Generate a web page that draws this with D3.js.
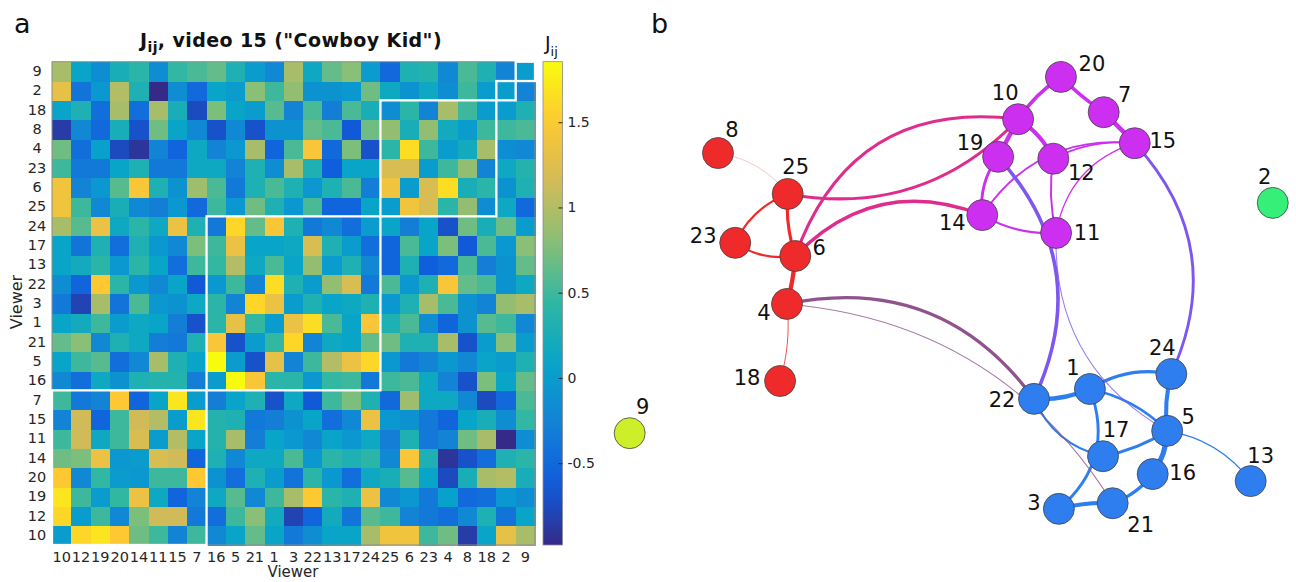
<!DOCTYPE html>
<html>
<head>
<meta charset="utf-8">
<script src="https://cdn.jsdelivr.net/npm/d3@7"></script>
<style>
  body { margin: 0; background: #fff; }
  text { font-family: "DejaVu Sans", sans-serif; }
</style>
</head>
<body>
<svg width="1296" height="582"></svg>
<script>
const svg = d3.select("svg");
const width = +svg.attr("width");
const height = +svg.attr("height");

// viewer order of the matrix columns (first = left column / bottom row)
const order = [10,12,19,20,14,11,15,7,16,5,21,1,3,22,13,17,24,25,6,23,4,8,18,2,9];

// J_ij, lower triangle in "order" index (row i holds j = 0..i-1), diagonal = 0
const jLower = [
  [],
  [1.6],
  [1.7, 0.5],
  [1.5, -0.2, 0.45],
  [0.7, 0.75, 1.35, -0.05],
  [0.5, 1.15, 0.15, 0.5, 1.2],
  [-0.25, 1.15, -0.55, 0.5, 1.15, 1.0],
  [0.5, -0.35, -0.25, 1.5, -0.55, 0.1, 1.7],
  [-0.2, -0.45, 0.15, -0.1, 0.3, 0.35, 0.35, -0.3],
  [0.1, 0.5, 0.6, -0.45, -0.2, 0.95, 0.3, 0.1, 1.855],
  [0.65, 0.8, -0.2, 0.3, 0.15, -0.3, -0.35, 0.3, 1.45, -0.7],
  [0.1, 0.2, 0.5, 0.0, 0.15, 0.1, -0.3, -0.7, 0.4, 1.3, 0.45],
  [-0.35, -0.8, 0.95, -0.4, 0.55, -0.05, -0.1, 0.15, 0.4, -0.25, 1.6, 1.35],
  [-0.15, -0.55, 1.5, 0.4, -0.05, -0.2, 0.1, -0.65, -0.05, 0.5, -0.25, 1.65, 0.3],
  [0.1, 0.2, 0.4, -0.05, 0.4, 0.1, -0.45, 0.5, 0.45, 1.0, 0.15, 0.55, 0.1, 0.85],
  [0.1, -0.4, 0.3, -0.45, 0.3, -0.05, -0.2, 0.75, 0.5, 1.35, 0.1, 0.1, 0.15, 1.2, 0.3],
  [0.95, 0.6, 1.35, 0.15, 0.4, 0.15, 1.35, 0.3, -0.35, 1.6, 0.65, 1.45, 0.3, -0.35, -0.2, -0.45],
  [1.4, 0.5, -0.2, 0.25, -0.2, -0.3, -0.05, -0.5, 0.5, -0.05, 0.7, 0.3, -0.05, 0.55, -0.55, -0.55, 0.1],
  [1.4, -0.25, -0.05, 0.6, 1.45, 0.3, -0.1, 0.9, 0.55, -0.35, 0.3, 0.55, 0.3, -0.05, 0.3, 0.55, -0.3, 1.4],
  [0.5, -0.35, -0.35, 0.1, 0.3, -0.35, -0.35, 0.15, 0.15, -0.25, 0.3, -0.15, 0.95, 0.3, -0.6, 0.1, 0.1, 1.2, 1.2],
  [0.7, -0.45, 0.05, -0.75, -0.9, -0.25, -0.55, 0.15, -0.25, -0.05, 0.95, -0.55, 0.55, 1.45, -0.5, 0.75, -0.7, 0.4, 1.65, 0.5],
  [-0.85, -0.2, -0.5, 0.25, -0.7, 0.7, 0.1, -0.2, -0.7, -0.2, -0.7, -0.1, -0.1, 0.65, 0.55, -0.65, 0.7, 0.85, 0.25, 0.85, 0.2],
  [0.1, 0.3, -0.45, 0.95, -0.45, 0.95, 0.25, -0.75, 0.75, 0.1, 0.0, 0.6, -0.25, 0.55, -0.3, 0.55, 0.25, -0.15, 0.4, -0.25, 0.95, 0.5],
  [1.3, -0.4, -0.05, 1.0, 0.3, -0.98, -0.15, -0.5, 0.1, 0.0, 0.8, 0.5, 0.85, -0.1, -0.1, -0.05, 0.7, 0.15, -0.1, 0.15, -0.15, 0.5, 0.0],
  [0.95, 0.1, -0.15, 0.25, 0.4, -0.15, 0.45, 0.55, 0.65, 0.3, 0.0, -0.2, 0.95, 0.15, 0.65, 0.8, 0.0, -0.5, 0.3, 0.35, -0.2, 0.55, 0.3, -0.25]
];

const cbTicks = [-0.5, 0, 0.5, 1, 1.5];

// communities (blocks on the diagonal, node colours in b)
const communities = [[10,12,19,20,14,11,15,7], [16,5,21,1,3,22,13,17,24], [25,6,23,4,8,18], [2], [9]];
const communityColors = ["#cd2ff0", "#2e7ef0", "#ef2a2a", "#35ef78", "#cdef2a"];

// network layout, in 0..1 units of panel b
const nodeIds = [8,25,23,6,4,18,20,10,7,19,12,15,14,11,24,1,22,5,17,16,13,3,21,2,9];
const nodeX = [0.171,0.272,0.196,0.283,0.271,0.261,0.668,0.606,0.730,0.577,0.657,0.775,0.554,0.661,0.828,0.710,0.629,0.822,0.729,0.801,0.943,0.665,0.743,0.975,0.043];
const nodeY = [0.198,0.285,0.389,0.417,0.519,0.683,0.036,0.126,0.111,0.206,0.210,0.177,0.330,0.368,0.668,0.700,0.721,0.789,0.843,0.881,0.896,0.955,0.943,0.304,0.794];
const labelDx = [14,8,-32,24,-23,-33,31,-13,21,-28,28,28,-30,31,-9,-17,-32,21,13,30,10,-25,28,-8,13];
const labelDy = [-23,-27,-7,-8,9,-3,-13,-26,-17,-14,14,-2,8,0,-26,-21,1,-14,-26,-1,-25,-6,22,-26,-26];

const edgePairs = [
  [8,25],[25,23],[25,6],[23,6],[6,4],[4,18],
  [10,20],[20,7],[7,15],[10,19],[10,12],[19,14],[14,11],[12,11],[15,12],[15,14],[15,11],
  [22,1],[1,24],[1,5],[1,3],[22,17],[17,5],[24,5],[5,16],[16,21],[3,21],[5,13],
  [25,10],[6,10],[6,14],[4,22],[4,21],[19,22],[15,24],[11,5]
];
const edgeBend = [
  0.2,-0.2,-0.1,-0.2,0.05,0.1,
  0.1,-0.05,0,0,0.15,-0.2,-0.15,-0.1,-0.15,-0.3,-0.3,
  -0.12,0.2,0.15,0.35,-0.25,-0.1,-0.1,0.15,0.15,0.08,0.2,
  -0.27,0.4,0.33,0.32,0.25,0.33,0.33,-0.3
];

// ---------- matrix ----------
const n = order.length;
const J = order.map(() => new Array(n).fill(0));
jLower.forEach((row, i) => row.forEach((v, j) => { J[i][j] = v; J[j][i] = v; }));
const jOf = (a, b) => J[order.indexOf(a)][order.indexOf(b)];

const cells = [];
order.forEach((r, i) => order.forEach((c, j) => cells.push({ row: r, col: c, v: J[i][j] })));

const x = d3.scaleBand(order, [52, 535]);
const y = d3.scaleBand(order.slice().reverse(), [61.7, 545]);
const ext = d3.extent(cells, d => d.v);
const parula = d3.piecewise(d3.interpolateRgb,
  ["#352a87", "#0f5cdd", "#1481d6", "#06a4ca", "#2eb7a4", "#87bf77", "#d1bb59", "#fec832", "#f9fb0e"]);
const color = d3.scaleSequential(ext, parula);

svg.append("rect").attr("width", width).attr("height", height).attr("fill", "#fff");

svg.append("g")
  .attr("shape-rendering", "crispEdges")
  .selectAll("rect")
  .data(cells)
  .enter()
  .append("rect")
  .attr("x", d => x(d.col))
  .attr("y", d => y(d.row))
  .attr("width", x.bandwidth() + 0.6)
  .attr("height", y.bandwidth() + 0.6)
  .attr("fill", d => color(d.v));

// axes box
svg.append("rect")
  .attr("x", 52).attr("y", 61.7)
  .attr("width", 483).attr("height", 483.3)
  .attr("fill", "none").attr("stroke", "#8c8c8c").attr("stroke-width", 1);

// community blocks
svg.append("g")
  .selectAll("rect")
  .data(communities)
  .enter()
  .append("rect")
  .attr("x", c => x(c[0]))
  .attr("y", c => y(order[order.indexOf(c[0]) + c.length - 1]))
  .attr("width", c => c.length * x.bandwidth())
  .attr("height", c => c.length * y.bandwidth())
  .attr("fill", "none")
  .attr("stroke", "#fff")
  .attr("stroke-width", 2.3);

// tick labels
const yAx = svg.append("g").attr("transform", "translate(52,0)")
  .call(d3.axisLeft(y).tickSize(0).tickPadding(15));
yAx.select(".domain").remove();
yAx.selectAll("text").attr("font-size", 14.5).attr("fill", "#262626")
  .attr("text-anchor", "middle").attr("font-family", "DejaVu Sans");

const xAx = svg.append("g").attr("transform", "translate(0,545)")
  .call(d3.axisBottom(x).tickSize(0).tickPadding(7));
xAx.select(".domain").remove();
xAx.selectAll("text").attr("font-size", 14.5).attr("fill", "#262626").attr("font-family", "DejaVu Sans");

svg.append("text").attr("x", 293).attr("y", 577).attr("text-anchor", "middle")
  .attr("font-size", 15).attr("fill", "#262626").text("Viewer");
svg.append("text").attr("transform", "translate(22,302) rotate(-90)").attr("text-anchor", "middle")
  .attr("font-size", 16).attr("fill", "#262626").text("Viewer");

// title
const title = svg.append("text").attr("x", 291).attr("y", 47).attr("text-anchor", "middle")
  .attr("font-size", 19).attr("font-weight", "bold").attr("letter-spacing", 0.4).attr("fill", "#111");
title.append("tspan").text("J");
title.append("tspan").attr("font-size", 14).attr("dy", 5).text("ij");
title.append("tspan").attr("dy", -5).text(', video 15 ("Cowboy Kid")');

svg.append("text").attr("x", 14).attr("y", 33).attr("font-size", 27).attr("fill", "#111").text("a");
svg.append("text").attr("x", 651).attr("y", 33).attr("font-size", 27).attr("fill", "#111").text("b");

// ---------- colorbar ----------
const cb = d3.scaleLinear(ext, [545, 61.7]);
const grad = svg.append("defs").append("linearGradient")
  .attr("id", "cbgrad").attr("x1", 0).attr("y1", 1).attr("x2", 0).attr("y2", 0);
d3.range(0, 1.0001, 0.05).forEach(t => {
  grad.append("stop").attr("offset", t).attr("stop-color", parula(t));
});
svg.append("rect").attr("x", 543).attr("y", 61.7).attr("width", 19.5).attr("height", 483.3)
  .attr("fill", "url(#cbgrad)").attr("stroke", "#8c8c8c").attr("stroke-width", 0.8);
const cbAx = svg.append("g").attr("transform", "translate(562.5,0)")
  .call(d3.axisRight(cb).tickValues(cbTicks).tickSizeInner(-4).tickSizeOuter(0).tickPadding(5)
    .tickFormat(d => String(d)));
cbAx.select(".domain").remove();
cbAx.selectAll("line").attr("stroke", "#262626");
cbAx.selectAll("text").attr("font-size", 14).attr("fill", "#262626").attr("font-family", "DejaVu Sans");

const cbTitle = svg.append("text").attr("x", 545).attr("y", 50).attr("font-size", 19).attr("fill", "#111");
cbTitle.append("tspan").text("J");
cbTitle.append("tspan").attr("font-size", 13).attr("dy", 6).text("ij");

// ---------- network ----------
const nx = d3.scaleLinear([0, 1], [600, 1290]);
const ny = d3.scaleLinear([0, 1], [60, 530]);
const pos = {};
nodeIds.forEach((id, i) => pos[id] = { x: nx(nodeX[i]), y: ny(nodeY[i]) });
const commOf = id => communities.findIndex(c => c.includes(id));

const widthScale = d3.scaleLinear([0.9, 1.85], [0.8, 5.2]).clamp(true);
const alphaScale = d3.scaleLinear([0.85, 1.0], [0.35, 1]).clamp(true);

const links = edgePairs.map((p, k) => {
  const ca = communityColors[commOf(p[0])], cbc = communityColors[commOf(p[1])];
  return {
    a: p[0], b: p[1], bend: edgeBend[k], w: jOf(p[0], p[1]),
    color: commOf(p[0]) === commOf(p[1]) ? ca : d3.interpolateRgb(ca, cbc)(0.5)
  };
});

function curve(d) {
  const A = pos[d.a], B = pos[d.b];
  const dx = B.x - A.x, dy = B.y - A.y;
  const cx = (A.x + B.x) / 2 + d.bend * dy;
  const cy = (A.y + B.y) / 2 - d.bend * dx;
  return `M${A.x},${A.y}Q${cx},${cy} ${B.x},${B.y}`;
}

svg.append("g")
  .attr("fill", "none")
  .selectAll("path")
  .data(links)
  .enter()
  .append("path")
  .attr("d", curve)
  .attr("stroke", d => d.color)
  .attr("stroke-opacity", d => alphaScale(d.w))
  .attr("stroke-width", d => widthScale(d.w));

const nodes = nodeIds.map((id, i) => ({ id, x: pos[id].x, y: pos[id].y, dx: labelDx[i], dy: labelDy[i] }));

svg.append("g")
  .selectAll("circle")
  .data(nodes)
  .enter()
  .append("circle")
  .attr("cx", d => d.x)
  .attr("cy", d => d.y)
  .attr("r", 15.5)
  .attr("fill", d => communityColors[commOf(d.id)])
  .attr("stroke", "#444")
  .attr("stroke-width", 0.8);

svg.append("g")
  .selectAll("text")
  .data(nodes)
  .enter()
  .append("text")
  .attr("x", d => d.x + d.dx)
  .attr("y", d => d.y + d.dy)
  .attr("text-anchor", "middle")
  .attr("dominant-baseline", "central")
  .attr("font-size", 21)
  .attr("fill", "#111")
  .text(d => d.id);
</script>
</body>
</html>
